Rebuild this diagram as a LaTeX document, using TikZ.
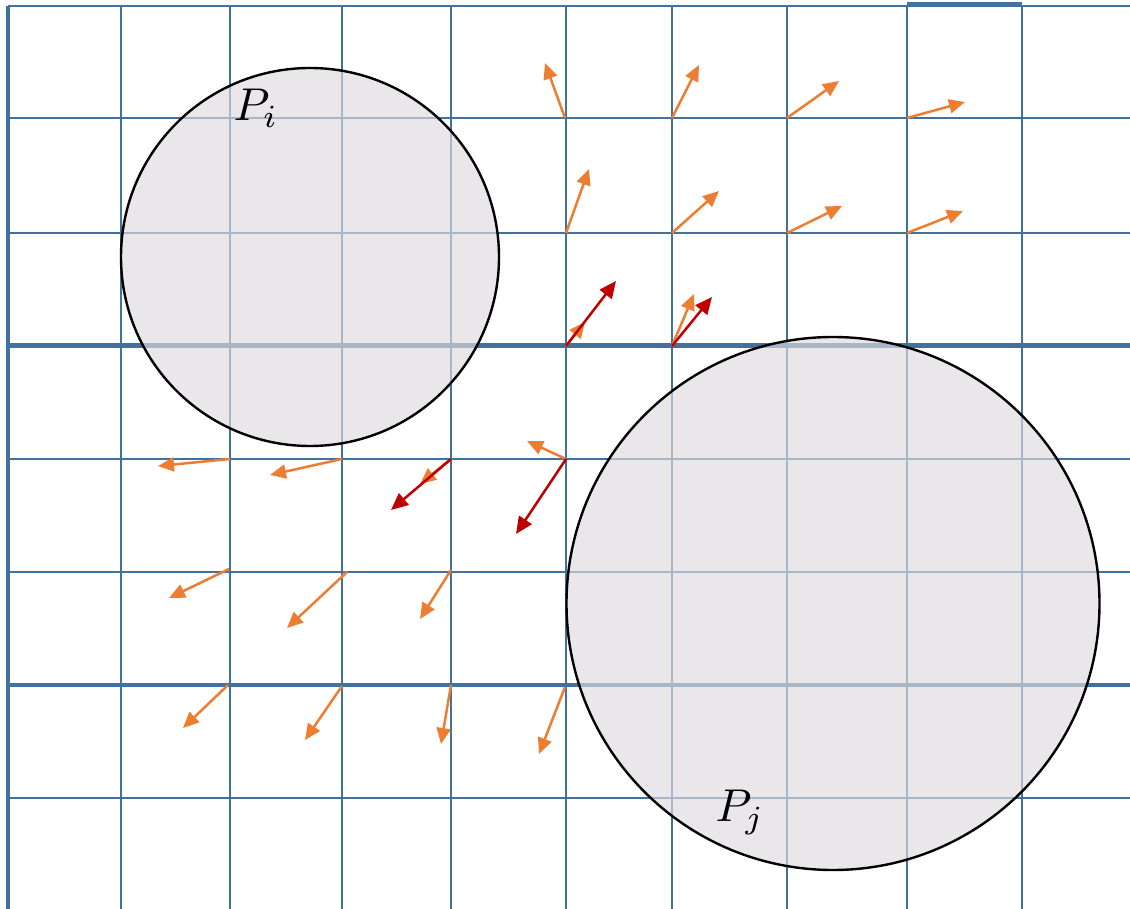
\documentclass[tikz,border=0pt]{standalone}
\usetikzlibrary{arrows.meta}
\definecolor{gridblue}{HTML}{41719C}
\definecolor{orangeA}{HTML}{ED7D31}
\definecolor{redA}{HTML}{C00000}
\definecolor{discfill}{RGB}{222,219,221}
\tikzset{
  gridline/.style={draw=gridblue, line width=2.8pt},
  disc/.style={circle, draw=black, line width=2.4pt, fill=discfill, fill opacity=0.66, draw opacity=1, inner sep=0pt},
  lbl/.style={scale=4.6, inner sep=0pt},
  oarrow/.style={draw=orangeA, line width=2.5pt, -{Triangle[length=16pt,width=14pt]}},
  rarrow/.style={draw=redA, line width=2.5pt, -{Triangle[length=17pt,width=15pt]}}
}
\begin{document}
\begin{tikzpicture}[x=1pt,y=-1pt]
\useasboundingbox (0,0) rectangle (1130,909);
% grid
\foreach \x in {121,230,342,451,566,672,787,907,1022}
  \draw[gridline] (\x,6) -- (\x,909);
\draw[gridline, line width=3.6pt] (8,6) -- (8,909);
\foreach \y in {6,118,233,459,572,798}
  \draw[gridline] (8,\y) -- (1130,\y);
\draw[gridline, line width=5pt] (8,346) -- (1130,346);
\draw[gridline, line width=4.2pt] (8,685) -- (1130,685);
\draw[gridline, line width=4.2pt] (907,4.5) -- (1022,4.5);
% discs
\node[disc, minimum size=378pt] (Pi) at (310,257) {};
\node[disc, minimum size=533pt] (Pj) at (833,603.5) {};
\node[lbl] (PiL) at (256,108) {$P_i$};
\node[lbl] (PjL) at (740,812) {$P_j$};
% grid points and vector tips
\foreach \n/\sx/\sy/\tx/\ty in {
  a1/565/118/545/63, a2/672/118/699/65, a3/787/118/839/81, a4/907/118/965/102,
  b1/566/233/589/169, b2/672/233/719/191, b3/787/233/842/206, b4/907/233/963/211,
  c1/566/346/585/322, c2/672/346/694/294,
  d1/230/459/158/466, d2/342/459/270/475, d3/451/459/420/484, d4/566/459/527/441,
  e1/229/569/169/598, e2/347/572/287/628, e3/451/570/420/619,
  f1/228/685/183/728, f2/342/686/305/740, f3/451/685/441/744, f4/565/687/539/754}
{
  \coordinate (s\n) at (\sx,\sy);
  \coordinate (t\n) at (\tx,\ty);
  \draw[oarrow] (s\n) -- (t\n);
}
% red vectors
\coordinate (rs1) at (566,346); \coordinate (rt1) at (616,281);
\coordinate (rs2) at (672,346); \coordinate (rt2) at (712,297);
\coordinate (rs3) at (451,459); \coordinate (rt3) at (391,510);
\coordinate (rs4) at (566,459); \coordinate (rt4) at (516,534);
\draw[rarrow] (rs1) -- (rt1);
\draw[rarrow] (rs2) -- (rt2);
\draw[rarrow] (rs3) -- (rt3);
\draw[rarrow] (rs4) -- (rt4);
\end{tikzpicture}
\end{document}
